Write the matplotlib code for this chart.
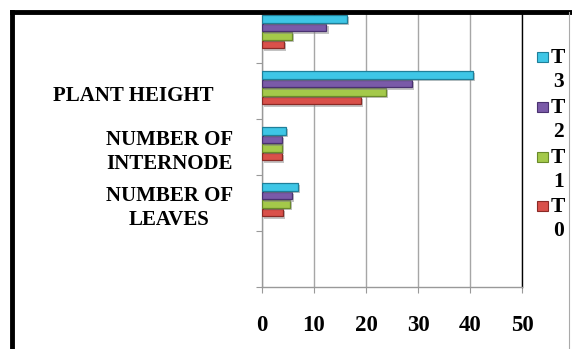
import matplotlib
matplotlib.use("Agg")
import matplotlib.pyplot as plt
import matplotlib.patheffects as pe
import matplotlib.transforms as mtransforms
from matplotlib.lines import Line2D
from matplotlib.patches import Rectangle
import numpy as np

plt.rcParams['font.family'] = ['Liberation Serif', 'DejaVu Serif']
plt.rcParams['font.weight'] = 'bold'

# ---------------- data ----------------
categories = ["", "NUMBER OF\nLEAVES", "NUMBER OF\nINTERNODE", "PLANT HEIGHT", ""]
T0 = [np.nan, 4.0, 3.9, 19.0, 4.3]
T1 = [np.nan, 5.3, 3.9, 23.8, 5.7]
T2 = [np.nan, 5.8, 3.9, 28.8, 12.4]
T3 = [np.nan, 7.0, 4.6, 40.6, 16.3]
series_names = ["T\n0", "T\n1", "T\n2", "T\n3"]
xticks = [0, 10, 20, 30, 40, 50]

colors = ['#d9504a', '#a4c94a', '#7a5aa8', '#3ec6e6']
edges = ['#8a2a26', '#6a8a2a', '#4a3270', '#1f7f99']

W, H = 572, 349
fig = plt.figure(figsize=(W / 100, H / 100), dpi=100)
# plot area is cut off by the frame at the top
ax = fig.add_axes([262 / W, 1 - 287 / H, (522 - 262) / W, (287 - 13) / H])

y = np.arange(len(categories))
step = 0.152
offsets = [-1.5 * step, -0.5 * step, 0.5 * step, 1.5 * step]
shadow = [pe.SimplePatchShadow(offset=(1.5, -1.5), shadow_rgbFace='#888888', alpha=0.5), pe.Normal()]
for vals, off, c, ec in zip([T0, T1, T2, T3], offsets, colors, edges):
    bars = ax.barh(y + off + 0.055, vals, height=0.135, color=c, edgecolor=ec, linewidth=0.9, zorder=3)
    for b in bars:
        b.set_path_effects(shadow)

ax.set_xlim(0, 50)
ax.set_ylim(-0.5, 4.5 - 6 / 56)
ax.set_xticks(xticks)
ax.set_xticklabels([str(t) for t in xticks], fontsize=16.5, fontweight='bold')
ax.set_yticks(y)
ax.set_yticklabels(categories, fontsize=15, fontweight='bold', multialignment='center', linespacing=1.3)
ax.set_yticks(np.arange(-0.5, 4.0, 1.0), minor=True)
ax.tick_params(axis='y', which='major', length=0, pad=21)
ax.tick_params(axis='y', which='minor', length=4, color='#999999', width=0.8)
ax.tick_params(axis='x', length=4, color='#999999', width=0.8, pad=16)

# the single-line label sits a bit further left in the original
lab = ax.get_yticklabels()[3]
lab.set_transform(lab.get_transform() + mtransforms.ScaledTranslation(-0.19, -0.02, fig.dpi_scale_trans))

ax.grid(axis='x', color='#a6a6a6', linewidth=1.0, zorder=0)
ax.set_axisbelow(True)
for s in ['left', 'bottom']:
    ax.spines[s].set_color('#999999')
    ax.spines[s].set_linewidth(1.0)
ax.spines['top'].set_visible(False)
ax.spines['right'].set_color('black')
ax.spines['right'].set_linewidth(1.0)

# legend drawn by hand so the marker sits beside the first line of the label
leg_y = [206, 157, 107, 57]
for name, c, ec, ly in zip(series_names, colors, edges, leg_y):
    fig.add_artist(Rectangle((537 / W, 1 - (ly + 5) / H), 11 / W, 10 / H,
                             transform=fig.transFigure, facecolor=c, edgecolor=ec, linewidth=0.8))
    fig.text(551 / W, 1 - (ly - 9) / H, name, ha='left', va='top', fontsize=15.5,
             fontweight='bold', multialignment='center', linespacing=1.25)

# outer frame
fig.add_artist(Line2D([12 / W, 1], [1 - 12 / H, 1 - 12 / H], color='black', linewidth=3.5,
                      transform=fig.transFigure, solid_capstyle='projecting'))
fig.add_artist(Line2D([12 / W, 12 / W], [0, 1 - 12 / H], color='black', linewidth=3.5,
                      transform=fig.transFigure))
fig.add_artist(Line2D([569 / W, 569 / W], [0, 1 - 12 / H], color='#aaaaaa', linewidth=0.8,
                      transform=fig.transFigure))

fig.savefig('out.png', dpi=100)
